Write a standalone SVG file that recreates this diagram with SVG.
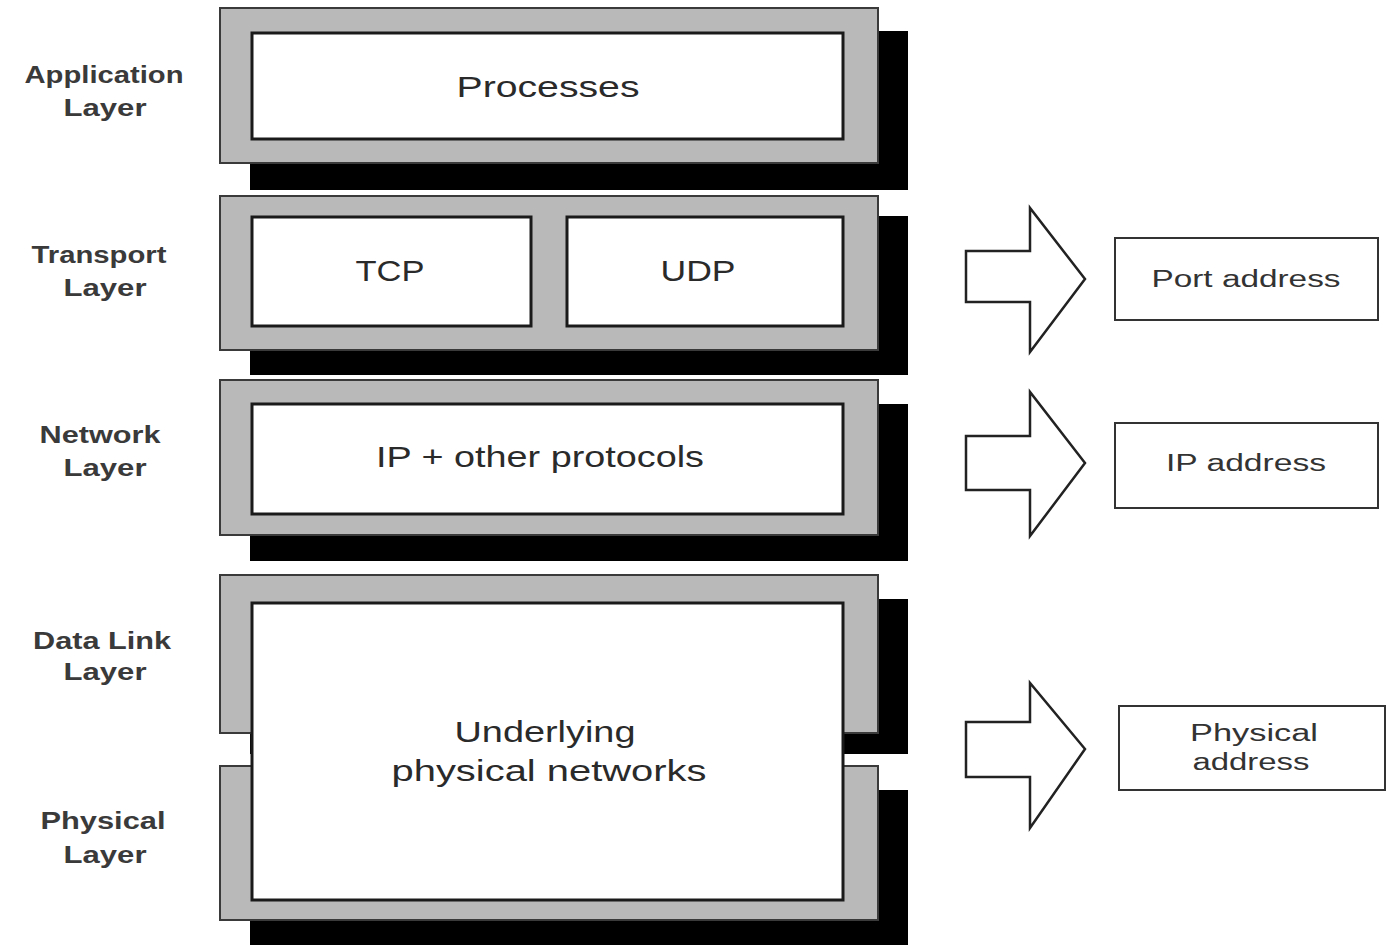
<svg xmlns="http://www.w3.org/2000/svg" width="1388" height="945" viewBox="0 0 1388 945">
<style>
.shadow{fill:#000}
.frame{fill:#b9b9b9;stroke:#3a3a3a;stroke-width:2}
.inner{fill:#fff;stroke:#1a1a1a;stroke-width:3}
.box{fill:#fff;stroke:#333;stroke-width:2}
.arrow{fill:#fff;stroke:#222;stroke-width:2.5;stroke-linejoin:miter}
text{font-family:"Liberation Sans",Arial,sans-serif;fill:#2a2a2a;text-anchor:middle}
.big{font-size:29px}
.lbl{font-size:23px;font-weight:bold;fill:#3a3a3a}
.addr{font-size:23px;fill:#333}
</style>
<rect width="1388" height="945" fill="#fff"/>
<g id="application-layer">
<rect class="shadow" x="250" y="31" width="658" height="159"/>
<rect class="frame" x="220" y="8" width="658" height="155"/>
<rect class="inner" x="252" y="33" width="591" height="106"/>
<text class="big" x="548" y="97" textLength="183" lengthAdjust="spacingAndGlyphs">Processes</text>
<text class="lbl" x="104" y="83" textLength="159" lengthAdjust="spacingAndGlyphs">Application</text>
<text class="lbl" x="105" y="116" textLength="83" lengthAdjust="spacingAndGlyphs">Layer</text>
</g>
<g id="transport-layer">
<rect class="shadow" x="250" y="216" width="658" height="159"/>
<rect class="frame" x="220" y="196" width="658" height="154"/>
<rect class="inner" x="252" y="217" width="279" height="109"/>
<rect class="inner" x="567" y="217" width="276" height="109"/>
<text class="big" x="390" y="281" textLength="69" lengthAdjust="spacingAndGlyphs">TCP</text>
<text class="big" x="698" y="281" textLength="75" lengthAdjust="spacingAndGlyphs">UDP</text>
<text class="lbl" x="99" y="263" textLength="135" lengthAdjust="spacingAndGlyphs">Transport</text>
<text class="lbl" x="105" y="296" textLength="83" lengthAdjust="spacingAndGlyphs">Layer</text>
</g>
<g id="network-layer">
<rect class="shadow" x="250" y="404" width="658" height="157"/>
<rect class="frame" x="220" y="380" width="658" height="155"/>
<rect class="inner" x="252" y="404" width="591" height="110"/>
<text class="big" x="540" y="467" textLength="328" lengthAdjust="spacingAndGlyphs">IP + other protocols</text>
<text class="lbl" x="100" y="443" textLength="121" lengthAdjust="spacingAndGlyphs">Network</text>
<text class="lbl" x="105" y="476" textLength="83" lengthAdjust="spacingAndGlyphs">Layer</text>
</g>
<g id="datalink-physical-layers">
<rect class="shadow" x="250" y="599" width="658" height="155"/>
<rect class="frame" x="220" y="575" width="658" height="158"/>
<rect class="shadow" x="250" y="790" width="658" height="155"/>
<rect class="frame" x="220" y="766" width="658" height="154"/>
<rect class="inner" x="252" y="603" width="591" height="297"/>
<text class="big" x="545" y="742" textLength="181" lengthAdjust="spacingAndGlyphs">Underlying</text>
<text class="big" x="549" y="781" textLength="315" lengthAdjust="spacingAndGlyphs">physical networks</text>
<text class="lbl" x="102" y="649" textLength="138" lengthAdjust="spacingAndGlyphs">Data Link</text>
<text class="lbl" x="105" y="680" textLength="83" lengthAdjust="spacingAndGlyphs">Layer</text>
<text class="lbl" x="103" y="829" textLength="125" lengthAdjust="spacingAndGlyphs">Physical</text>
<text class="lbl" x="105" y="863" textLength="83" lengthAdjust="spacingAndGlyphs">Layer</text>
</g>
<g id="connectors">
<path class="arrow" d="M966,251 L1030,251 L1030,208 L1085,279 L1030,352 L1030,302 L966,302 Z"/>
<path class="arrow" d="M966,436 L1030,436 L1030,392 L1085,463 L1030,536 L1030,490 L966,490 Z"/>
<path class="arrow" d="M966,722 L1030,722 L1030,683 L1085,749 L1030,828 L1030,777 L966,777 Z"/>
</g>
<g id="port-address">
<rect class="box" x="1115" y="238" width="263" height="82"/>
<text class="addr" x="1246" y="287" textLength="189" lengthAdjust="spacingAndGlyphs">Port address</text>
</g>
<g id="ip-address">
<rect class="box" x="1115" y="423" width="263" height="85"/>
<text class="addr" x="1246" y="471" textLength="160" lengthAdjust="spacingAndGlyphs">IP address</text>
</g>
<g id="physical-address">
<rect class="box" x="1119" y="706" width="266" height="84"/>
<text class="addr" x="1254" y="741" textLength="128" lengthAdjust="spacingAndGlyphs">Physical</text>
<text class="addr" x="1251" y="770" textLength="117" lengthAdjust="spacingAndGlyphs">address</text>
</g>
</svg>
